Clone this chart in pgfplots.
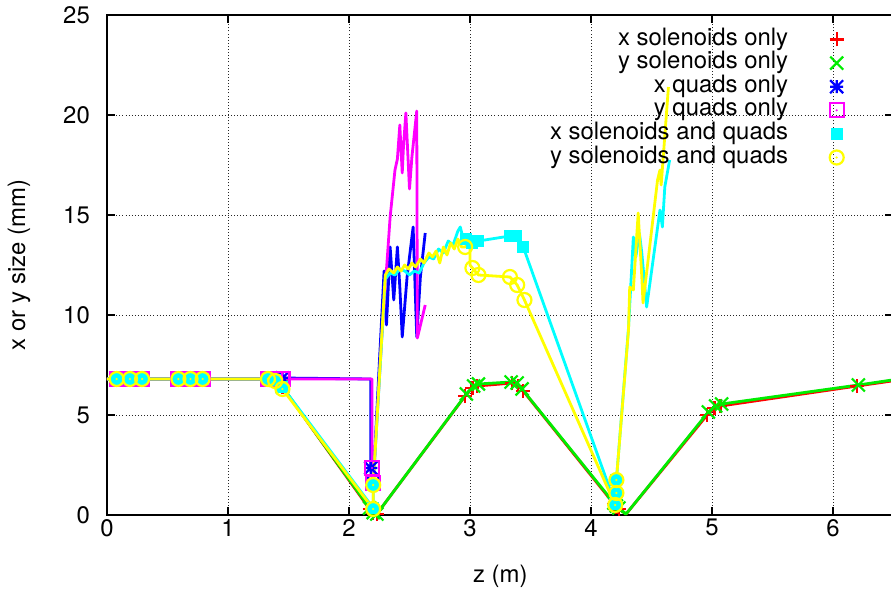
\documentclass[border=0pt]{standalone}
\usepackage{fontspec}
\setmainfont{TeX Gyre Heros}
\usepackage{pgfplots}
\pgfplotsset{compat=1.18}

\definecolor{gpred}{rgb}{1,0,0}
\definecolor{gpgreen}{rgb}{0,0.93,0}
\definecolor{gpblue}{rgb}{0,0,1}
\definecolor{gpmag}{rgb}{1,0,1}
\definecolor{gpcyan}{rgb}{0,1,1}
\definecolor{gpyel}{rgb}{1,1,0}

\pgfdeclareplotmark{gpplus}{%
  \pgfpathmoveto{\pgfqpoint{-\pgfplotmarksize}{0pt}}\pgfpathlineto{\pgfqpoint{\pgfplotmarksize}{0pt}}%
  \pgfpathmoveto{\pgfqpoint{0pt}{-\pgfplotmarksize}}\pgfpathlineto{\pgfqpoint{0pt}{\pgfplotmarksize}}%
  \pgfusepathqstroke}
\pgfdeclareplotmark{gpcross}{%
  \pgfpathmoveto{\pgfqpoint{-\pgfplotmarksize}{-\pgfplotmarksize}}\pgfpathlineto{\pgfqpoint{\pgfplotmarksize}{\pgfplotmarksize}}%
  \pgfpathmoveto{\pgfqpoint{-\pgfplotmarksize}{\pgfplotmarksize}}\pgfpathlineto{\pgfqpoint{\pgfplotmarksize}{-\pgfplotmarksize}}%
  \pgfusepathqstroke}
\pgfdeclareplotmark{gpstar}{%
  \pgfpathmoveto{\pgfqpoint{-\pgfplotmarksize}{0pt}}\pgfpathlineto{\pgfqpoint{\pgfplotmarksize}{0pt}}%
  \pgfpathmoveto{\pgfqpoint{0pt}{-\pgfplotmarksize}}\pgfpathlineto{\pgfqpoint{0pt}{\pgfplotmarksize}}%
  \pgfpathmoveto{\pgfqpoint{-\pgfplotmarksize}{-\pgfplotmarksize}}\pgfpathlineto{\pgfqpoint{\pgfplotmarksize}{\pgfplotmarksize}}%
  \pgfpathmoveto{\pgfqpoint{-\pgfplotmarksize}{\pgfplotmarksize}}\pgfpathlineto{\pgfqpoint{\pgfplotmarksize}{-\pgfplotmarksize}}%
  \pgfusepathqstroke}
\pgfdeclareplotmark{gpbox}{%
  \pgfpathrectangle{\pgfqpoint{-\pgfplotmarksize}{-\pgfplotmarksize}}{\pgfqpoint{2\pgfplotmarksize}{2\pgfplotmarksize}}%
  \pgfusepathqstroke
  \pgfpathcircle{\pgfpointorigin}{1.2bp}\pgfusepathqfill}
\pgfdeclareplotmark{gpfbox}{%
  \pgfpathrectangle{\pgfqpoint{-\pgfplotmarksize}{-\pgfplotmarksize}}{\pgfqpoint{2\pgfplotmarksize}{2\pgfplotmarksize}}%
  \pgfusepathqfill}
\pgfdeclareplotmark{gpcirc}{%
  \pgfpathcircle{\pgfpointorigin}{\pgfplotmarksize}%
  \pgfusepathqstroke
  \pgfpathcircle{\pgfpointorigin}{1.2bp}\pgfusepathqfill}

\pgfplotsset{
  lineplot/.style={line width=2.8bp, line join=round, no marks, forget plot},
  markplot/.style={only marks, mark size=7bp, line width=2.2bp,
    legend image code/.code={\path (0bp,0bp); \draw[##1] plot coordinates {(47bp,0bp)};}},
}

\begin{document}
\fontsize{24}{24}\selectfont
\begin{tikzpicture}
\begin{axis}[
  at={(0bp,0bp)}, anchor=south west,
  scale only axis, width=786.5bp, height=500bp,
  xmin=0, xmax=6.5, ymin=0, ymax=25,
  xtick={0,1,2,3,4,5,6}, ytick={0,5,10,15,20,25},
  grid=major,
  grid style={black!85, line width=0.9bp, dash pattern=on 0.9bp off 2.2bp},
  tick align=inside, major tick length=8bp,
  tick style={black, line width=1.2bp},
  axis line style={line width=1.4bp},
  /pgf/number format/assume math mode=true,
  tick label style={font=\fontsize{24}{24}\selectfont},
  xticklabel style={inner sep=0pt, yshift=-4bp},
  yticklabel style={inner sep=0pt, xshift=-17bp},
  xlabel={z (m)}, ylabel={x or y size (mm)},
  every axis x label/.style={at={(axis description cs:0.5,0)}, anchor=center, yshift=-61bp, font=\fontsize{24}{24}\selectfont},
  every axis y label/.style={at={(axis description cs:-0.1119,0.5)}, anchor=center, rotate=90, font=\fontsize{24}{24}\selectfont},
  legend plot pos=right,
  legend cell align=right,
  legend style={draw=none, fill=none, inner sep=0pt, column sep=0pt, row sep=0pt,
    at={(axis cs:6.09,24.375)}, anchor=north east,
    font=\fontsize{24}{24}\selectfont,
    nodes={inner sep=0.5bp, text height=17bp, text depth=5.6bp}},
  clip=true,
]
% ---------------- x solenoids only (red)
\addplot[lineplot, gpred] coordinates {
(0,6.8) (0.08,6.8) (0.19,6.8) (0.29,6.8) (0.59,6.8) (0.69,6.8) (0.79,6.8) (1.33,6.8) (1.39,6.75) (1.45,6.4)
(2.17,0.3) (2.2,0.1) (2.23,0.05) (2.96,5.95) (3.02,6.35) (3.06,6.45) (3.35,6.6) (3.40,6.45) (3.44,6.2)
(4.19,0.55) (4.21,0.4) (4.23,0.3) (4.29,0.05) (4.96,5.0) (5.02,5.35) (5.07,5.45) (6.2,6.45) (6.6,6.8)};
\addplot[markplot, gpred, mark=gpplus] coordinates {
(0.08,6.8) (0.19,6.8) (0.29,6.8) (0.59,6.8) (0.69,6.8) (0.79,6.8) (1.33,6.8) (1.39,6.75) (1.45,6.4)
(2.17,0.3) (2.2,0.1) (2.23,0.05) (2.96,5.95) (3.02,6.35) (3.06,6.45) (3.35,6.6) (3.40,6.45) (3.44,6.2)
(4.19,0.55) (4.21,0.4) (4.23,0.3) (4.96,5.0) (5.02,5.35) (5.07,5.45) (6.2,6.45)};
\addlegendentry{x solenoids only}
% ---------------- y solenoids only (green)
\addplot[lineplot, gpgreen] coordinates {
(0,6.8) (0.08,6.8) (0.19,6.8) (0.29,6.8) (0.59,6.8) (0.69,6.8) (0.79,6.8) (1.33,6.8) (1.39,6.75) (1.45,6.4)
(2.17,0.35) (2.2,0.12) (2.23,0.05) (2.97,6.05) (3.03,6.45) (3.07,6.55) (3.34,6.65) (3.39,6.6) (3.43,6.3)
(4.19,0.6) (4.21,0.45) (4.23,0.35) (4.29,0.05) (4.97,5.15) (5.03,5.45) (5.08,5.55) (6.21,6.5) (6.6,6.85)};
\addplot[markplot, gpgreen, mark=gpcross, mark size=6.5bp] coordinates {
(0.08,6.8) (0.19,6.8) (0.29,6.8) (0.59,6.8) (0.69,6.8) (0.79,6.8) (1.33,6.8) (1.39,6.75) (1.45,6.4)
(2.17,0.35) (2.2,0.12) (2.23,0.05) (2.97,6.05) (3.03,6.45) (3.07,6.55) (3.34,6.65) (3.39,6.6) (3.43,6.3)
(4.19,0.6) (4.21,0.45) (4.23,0.35) (4.97,5.15) (5.03,5.45) (5.08,5.55) (6.21,6.5)};
\addlegendentry{y solenoids only}
% ---------------- x quads only (blue)
\addplot[lineplot, gpblue] coordinates {
(0,6.8) (0.08,6.8) (0.19,6.8) (0.29,6.8) (0.59,6.8) (0.69,6.8) (0.79,6.8) (1.33,6.8) (1.39,6.8) (1.45,6.85)
(2.18,6.8) (2.18,2.35) (2.2,1.6) (2.29,12.2) (2.31,9.5) (2.34,13.4) (2.37,10.75) (2.40,13.4) (2.42,11.4)
(2.44,8.9) (2.48,11.9) (2.53,14.4) (2.56,8.9) (2.59,11.9) (2.63,14.1)};
\addplot[markplot, gpblue, mark=gpstar, mark size=6.5bp] coordinates {
(0.08,6.8) (0.19,6.8) (0.29,6.8) (0.59,6.8) (0.69,6.8) (0.79,6.8) (1.33,6.8) (1.39,6.8) (1.45,6.85)
(2.18,2.35) (2.2,1.6)};
\addlegendentry{x quads only}
% ---------------- y quads only (magenta)
\addplot[lineplot, gpmag] coordinates {
(0,6.8) (0.08,6.8) (0.19,6.8) (0.29,6.8) (0.59,6.8) (0.69,6.8) (0.79,6.8) (1.33,6.8) (1.39,6.8) (1.45,6.8)
(2.19,6.8) (2.19,2.35) (2.2,1.6) (2.27,8.8) (2.34,14.9) (2.38,17.25) (2.40,17.8) (2.42,19.5) (2.44,17.1)
(2.45,18.4) (2.47,20.1) (2.50,16.3) (2.52,17.9) (2.56,20.2) (2.565,8.85) (2.63,10.5)};
\addplot[markplot, gpmag, mark=gpbox] coordinates {
(0.08,6.8) (0.19,6.8) (0.29,6.8) (0.59,6.8) (0.69,6.8) (0.79,6.8) (1.33,6.8) (1.39,6.8) (1.45,6.8)
(2.19,2.35) (2.2,1.6)};
\addlegendentry{y quads only}
% ---------------- x solenoids and quads (cyan)
\addplot[lineplot, gpcyan] coordinates {
(0,6.8) (0.08,6.8) (0.19,6.8) (0.29,6.8) (0.59,6.8) (0.69,6.8) (0.79,6.8) (1.33,6.8) (1.39,6.75) (1.45,6.4)
(2.2,0.35) (2.2,1.5) (2.3,11.8) (2.34,12.1) (2.38,12.0) (2.42,12.3) (2.46,12.2) (2.5,12.0) (2.54,12.2)
(2.58,12.1) (2.62,12.6) (2.66,12.9) (2.70,12.8) (2.74,13.3) (2.78,13.1) (2.82,13.7) (2.86,13.5) (2.9,14.2)
(2.92,14.4) (2.94,13.9) (2.97,13.8) (3.02,13.6) (3.07,13.7) (3.33,13.95) (3.38,13.95) (3.44,13.4)
(4.2,0.55) (4.21,1.1) (4.21,1.75) (4.31,9.35) (4.34,12.75) (4.35,13.9) (4.37,12.9) (4.40,14.1) (4.42,13.1)
(4.46,10.4) (4.57,15.25) (4.59,14.4) (4.61,16.4) (4.65,17.75)};
\addplot[markplot, gpcyan, mark=gpfbox, mark size=6bp] coordinates {
(0.08,6.8) (0.19,6.8) (0.29,6.8) (0.59,6.8) (0.69,6.8) (0.79,6.8) (1.33,6.8) (1.39,6.75) (1.45,6.4)
(2.2,0.35) (2.2,1.5) (2.97,13.8) (3.02,13.6) (3.07,13.7) (3.33,13.95) (3.38,13.95) (3.44,13.4)
(4.2,0.55) (4.21,1.1) (4.21,1.75)};
\addlegendentry{x solenoids and quads}
% ---------------- y solenoids and quads (yellow)
\addplot[lineplot, gpyel] coordinates {
(0,6.8) (0.08,6.8) (0.19,6.8) (0.29,6.8) (0.59,6.8) (0.69,6.8) (0.79,6.8) (1.33,6.8) (1.39,6.7) (1.45,6.3)
(2.2,0.3) (2.2,1.5) (2.3,12.0) (2.33,12.3) (2.37,12.1) (2.40,12.4) (2.43,12.2) (2.46,12.5) (2.49,12.3)
(2.52,12.6) (2.55,12.4) (2.59,12.8) (2.62,12.6) (2.66,13.1) (2.69,12.9) (2.72,13.2) (2.75,12.6) (2.78,13.4)
(2.81,13.0) (2.84,13.6) (2.87,13.3) (2.90,13.8) (2.93,13.4) (2.96,13.4) (3.0,13.7) (3.0,12.5) (3.02,12.35)
(3.07,12.0) (3.33,11.9) (3.39,11.5) (3.45,10.75) (4.2,0.5) (4.21,1.1) (4.21,1.75) (4.31,9.25) (4.32,11.4)
(4.35,11.25) (4.39,15.1) (4.42,11.9) (4.43,10.6) (4.55,16.75) (4.57,17.25) (4.58,16.5) (4.64,21.4)};
\addplot[markplot, gpyel, mark=gpcirc, mark size=7bp] coordinates {
(0.08,6.8) (0.19,6.8) (0.29,6.8) (0.59,6.8) (0.69,6.8) (0.79,6.8) (1.33,6.8) (1.39,6.7) (1.45,6.3)
(2.2,0.3) (2.2,1.5) (2.96,13.4) (3.02,12.35) (3.07,12.0) (3.33,11.9) (3.39,11.5) (3.45,10.75)
(4.2,0.5) (4.21,1.1) (4.21,1.75)};
\addlegendentry{y solenoids and quads}
\end{axis}
\pgfresetboundingbox
\path[use as bounding box] ([shift={(-107bp,-75bp)}]current axis.south west) rectangle ([shift={(784bp,515bp)}]current axis.south west);
\end{tikzpicture}
\end{document}
